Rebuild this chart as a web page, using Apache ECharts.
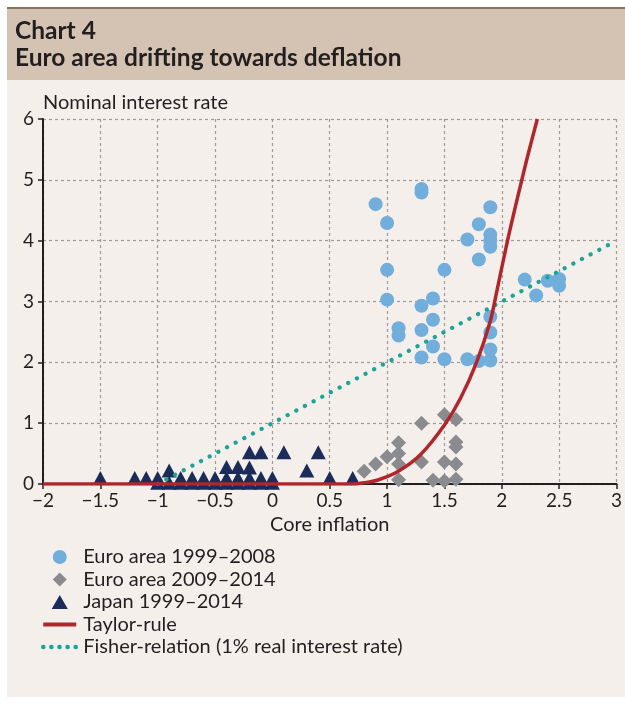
<!DOCTYPE html>
<html>
<head>
<meta charset="utf-8">
<script src="https://cdn.jsdelivr.net/npm/echarts@6/dist/echarts.min.js"></script>
<style>
  html, body { margin: 0; padding: 0; background: #fff; }
  #chart { width: 625px; height: 706px; }
</style>
</head>
<body>
<div id="chart"></div>
<script>
// 欧元区 1999-2008 (core inflation, nominal rate)
var euroEarly = [
  [0.9, 4.6], [1.3, 4.85], [1.3, 4.79], [1.0, 4.29], [1.9, 4.55], [1.8, 4.27],
  [1.7, 4.02], [1.9, 4.1], [1.9, 4.0], [1.9, 3.9], [1.8, 3.69], [1.0, 3.52],
  [1.5, 3.52], [2.2, 3.36], [2.4, 3.34], [2.5, 3.37], [2.5, 3.26], [2.3, 3.1],
  [1.0, 3.03], [1.4, 3.05], [1.3, 2.93], [1.4, 2.7], [1.1, 2.56], [1.1, 2.44],
  [1.3, 2.53], [1.4, 2.26], [1.9, 2.75], [1.9, 2.49], [1.9, 2.21], [1.9, 2.03],
  [1.3, 2.08], [1.5, 2.05], [1.7, 2.05], [1.8, 2.02]
];
// 欧元区 2009-2014
var euroLate = [
  [0.8, 0.21], [0.9, 0.33], [1.0, 0.45], [1.1, 0.68], [1.1, 0.5], [1.1, 0.33],
  [1.1, 0.07], [1.3, 1.0], [1.3, 0.36], [1.5, 1.14], [1.6, 1.06], [1.6, 0.69],
  [1.6, 0.61], [1.5, 0.36], [1.6, 0.33], [1.4, 0.06], [1.5, 0.05], [1.6, 0.08]
];
// 日本 1999-2014
var japan = [
  [-1.5, 0.1], [-1.2, 0.1], [-1.1, 0.1], [-1.0, 0.1], [-0.8, 0.1], [-0.7, 0.1],
  [-0.6, 0.1], [-0.5, 0.1], [-0.4, 0.1], [-0.3, 0.1], [-0.2, 0.1], [-0.1, 0.1],
  [0.0, 0.1], [0.5, 0.1], [0.7, 0.1],
  [-1.0, 0.02], [-0.9, 0.02], [-0.8, 0.02], [-0.7, 0.02], [-0.6, 0.02], [-0.5, 0.02],
  [-0.4, 0.02], [-0.3, 0.02], [-0.2, 0.02], [-0.1, 0.02], [0.0, 0.02],
  [-0.9, 0.22], [-0.4, 0.28], [-0.3, 0.28], [-0.2, 0.27], [-0.2, 0.52],
  [-0.1, 0.52], [0.1, 0.52], [0.3, 0.22], [0.4, 0.52]
];
// Taylor-rule 曲线
var taylor = [
  [-2, 0], [0.7, 0], [0.8, 0.02], [0.92, 0.066], [1.09, 0.2], [1.29, 0.48],
  [1.5, 0.97], [1.64, 1.41], [1.78, 2.0], [1.9, 2.68], [1.96, 3.2], [2.05, 4.0],
  [2.13, 4.65], [2.22, 5.35], [2.31, 6.0]
];
// Fisher-relation (1% real rate)
var fisher = [[-1, 0], [3, 4]];

var xTicks = { min: -2, max: 3, step: 0.5 };
var yTicks = { min: 0, max: 6, step: 1 };

var FONT = "Lato";
var TXT = "#231f20";
var minus = function (v) { return String(v).replace("-", "\u2212"); };
var diamondIcon = "path://M7,0 L14,7 L7,14 L0,7 Z";
var triangleIcon = "path://M7.5,0 L15,13 L0,13 Z";

var myChart = echarts.init(document.getElementById("chart"));
var option = {
  backgroundColor: "#ffffff",
  animation: false,
  textStyle: { fontFamily: FONT },
  graphic: [
    { type: "rect", silent: true, z: -10, shape: { x: 7, y: 80, width: 618, height: 617 }, style: { fill: "#f5efec" } },
    { type: "rect", silent: true, z: -10, shape: { x: 7, y: 9, width: 618, height: 71 }, style: { fill: "#d4c3b2" } },
    { type: "rect", silent: true, z: -10, shape: { x: 7, y: 7, width: 618, height: 2 }, style: { fill: "#8b7359" } }
  ],
  title: [
    { text: "Chart 4", left: 10, top: 14, textStyle: { fontFamily: FONT, fontWeight: "bold", fontSize: 24.5, color: TXT } },
    { text: "Euro area drifting towards deflation", left: 10, top: 41, textStyle: { fontFamily: FONT, fontWeight: "bold", fontSize: 24.5, color: TXT } }
  ],
  legend: {
    orient: "vertical",
    left: 36,
    top: 542,
    itemWidth: 33,
    itemHeight: 14,
    itemGap: 2.5,
    symbolKeepAspect: true,
    textStyle: { fontFamily: FONT, fontSize: 20, color: TXT, lineHeight: 20, padding: [0, 0, 0, 2] },
    data: [
      { name: "Euro area 1999\u20132008", icon: "circle" },
      { name: "Euro area 2009\u20132014", icon: diamondIcon },
      { name: "Japan 1999\u20132014", icon: triangleIcon },
      { name: "Taylor-rule", itemStyle: { opacity: 0 }, lineStyle: { width: 4 } },
      { name: "Fisher-relation (1% real interest rate)", itemStyle: { opacity: 0 }, lineStyle: { width: 4.5, type: [0.1, 8], cap: "round" } }
    ]
  },
  grid: { left: 43, right: 5, top: 119, bottom: 222, containLabel: false },
  xAxis: {
    type: "value",
    min: xTicks.min, max: xTicks.max, interval: xTicks.step,
    name: "Core inflation",
    nameLocation: "middle",
    nameGap: 29,
    nameTextStyle: { fontFamily: FONT, fontSize: 20, color: TXT },
    axisLine: { onZero: false, lineStyle: { color: TXT, width: 2 } },
    axisTick: { show: true, length: 5, lineStyle: { color: TXT, width: 1.5 } },
    axisLabel: { fontFamily: FONT, fontSize: 19, color: TXT, margin: 7, formatter: minus, showMaxLabel: true, showMinLabel: true },
    splitLine: { show: true, lineStyle: { color: "#9a9a9a", width: 1.2, type: [3, 3] } }
  },
  yAxis: {
    type: "value",
    min: yTicks.min, max: yTicks.max, interval: yTicks.step,
    name: "Nominal interest rate",
    nameLocation: "end",
    nameGap: 6,
    nameTextStyle: { fontFamily: FONT, fontSize: 20, color: TXT, align: "left" },
    axisLine: { show: true, onZero: false, lineStyle: { color: TXT, width: 2 } },
    axisTick: { show: true, length: 5, lineStyle: { color: TXT, width: 1.5 } },
    axisLabel: { fontFamily: FONT, fontSize: 19, color: TXT, margin: 9 },
    splitLine: { show: true, lineStyle: { color: "#9a9a9a", width: 1.2, type: [3, 3] } }
  },
  series: [
    {
      name: "Euro area 1999\u20132008",
      type: "scatter",
      symbol: "circle",
      symbolSize: 14,
      data: euroEarly,
      itemStyle: { color: "#72aedb", opacity: 1 },
      z: 2
    },
    {
      name: "Euro area 2009\u20132014",
      type: "scatter",
      symbol: "diamond",
      symbolSize: 15,
      data: euroLate,
      itemStyle: { color: "#8a8b8e", opacity: 1 },
      z: 2
    },
    {
      name: "Japan 1999\u20132014",
      type: "scatter",
      symbol: "triangle",
      symbolSize: [15, 14],
      data: japan,
      itemStyle: { color: "#1b2c58", opacity: 1 },
      z: 2
    },
    {
      name: "Taylor-rule",
      type: "line",
      data: taylor,
      smooth: 0.3,
      showSymbol: false,
      symbol: "none",
      lineStyle: { color: "#b0262b", width: 3.5 },
      itemStyle: { color: "#b0262b" },
      z: 4
    },
    {
      name: "Fisher-relation (1% real interest rate)",
      type: "line",
      data: fisher,
      showSymbol: false,
      symbol: "none",
      lineStyle: { color: "#1ba497", width: 4.2, type: [0.1, 9.7], cap: "round" },
      itemStyle: { color: "#1ba497" },
      z: 3
    }
  ]
};
option && myChart.setOption(option);
</script>
</body>
</html>
